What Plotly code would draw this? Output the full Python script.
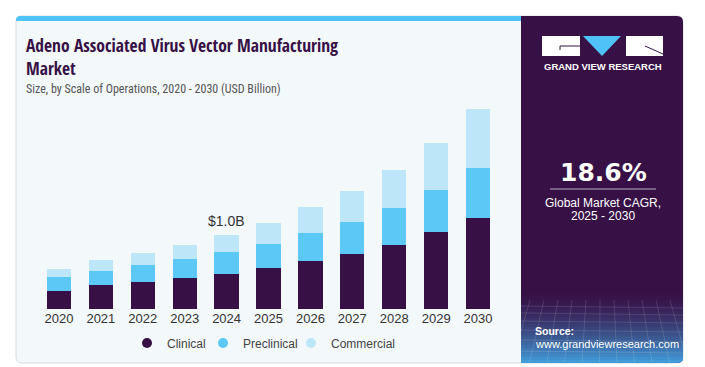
import plotly.graph_objects as go

years = ["2020", "2021", "2022", "2023", "2024", "2025", "2026", "2027", "2028", "2029", "2030"]
clinical = [0.25, 0.33, 0.37, 0.42, 0.48, 0.56, 0.65, 0.75, 0.87, 1.05, 1.24]
preclinical = [0.19, 0.19, 0.23, 0.26, 0.30, 0.33, 0.38, 0.43, 0.50, 0.57, 0.68]
commercial = [0.11, 0.145, 0.16, 0.185, 0.22, 0.28, 0.35, 0.43, 0.52, 0.64, 0.80]
series_names = ["Clinical", "Preclinical", "Commercial"]
colors = ["#371146", "#5BC8F5", "#BDE7F8"]
highlight_year = "2024"
highlight_label = "$1.0B"
cagr_text = "18.6%"

W, H = 705, 367
OFF = 8  # page body margin
SX0, SY0, PW, PH = 38, 100, 461, 209
L, T = SX0 - OFF, SY0 - OFF


def fx(sx):
    return (sx - SX0) / PW


def fy(sy):
    return (SY0 + PH - sy) / PH


def rrect(x0, y0, x1, y1, r, corners="tl,tr,br,bl"):
    c = corners.split(",")
    X0, X1 = fx(x0), fx(x1)
    Y0, Y1 = fy(y0), fy(y1)
    rx, ry = r / PW, r / PH
    p = []
    if "tl" in c:
        p.append(f"M{X0},{Y0 - ry} Q{X0},{Y0} {X0 + rx},{Y0}")
    else:
        p.append(f"M{X0},{Y0}")
    if "tr" in c:
        p.append(f"L{X1 - rx},{Y0} Q{X1},{Y0} {X1},{Y0 - ry}")
    else:
        p.append(f"L{X1},{Y0}")
    if "br" in c:
        p.append(f"L{X1},{Y1 + ry} Q{X1},{Y1} {X1 - rx},{Y1}")
    else:
        p.append(f"L{X1},{Y1}")
    if "bl" in c:
        p.append(f"L{X0 + rx},{Y1} Q{X0},{Y1} {X0},{Y1 + ry}")
    else:
        p.append(f"L{X0},{Y1}")
    p.append("Z")
    return " ".join(p)


fig = go.Figure()
vals = [clinical, preclinical, commercial]
for name, v, col in zip(series_names, vals, colors):
    fig.add_trace(go.Bar(x=years, y=v, name=name, marker=dict(color=col, line=dict(width=0)),
                         showlegend=False, hoverinfo="skip"))
legend_ids = ["legend", "legend2", "legend3"]
for name, col, lid in zip(series_names, colors, legend_ids):
    fig.add_trace(go.Scatter(x=[years[0]], y=[None], mode="markers", name=name, legend=lid,
                             marker=dict(color=col, size=10, symbol="circle")))

totals = [a + b + c for a, b, c in zip(clinical, preclinical, commercial)]
hi = years.index(highlight_year)

shapes = []
shapes.append(dict(type="path", xref="paper", yref="paper", path=rrect(16, 16, 683, 363, 6),
                   fillcolor="#F3F8FB", line=dict(color="#D5D9DE", width=1), layer="below"))
shapes.append(dict(type="path", xref="paper", yref="paper", path=rrect(521, 16, 683, 363, 6, "tr,br"),
                   fillcolor="#371146", line=dict(width=0), layer="below"))
n = 24
y_start, y_end = 290, 363
c0 = (55, 17, 70)
c1 = (66, 160, 222)
for i in range(n):
    t = (i + 0.5) / n
    t2 = t ** 1.6
    col = tuple(int(c0[k] + (c1[k] - c0[k]) * t2) for k in range(3))
    ya = y_start + (y_end - y_start) * i / n
    yb = y_start + (y_end - y_start) * (i + 1) / n + 0.5
    if i == n - 1:
        path = rrect(521, ya, 683, y_end, 6, "br")
    else:
        path = rrect(521, ya, 683, yb, 0, "")
    shapes.append(dict(type="path", xref="paper", yref="paper", path=path,
                       fillcolor=f"rgb{col}", line=dict(width=0), layer="below"))
for gy in [306, 313, 321, 330, 340, 351]:
    shapes.append(dict(type="line", xref="paper", yref="paper", x0=fx(521), x1=fx(683), y0=fy(gy), y1=fy(gy + 2),
                       line=dict(color="rgba(255,255,255,0.12)", width=1), layer="below"))
for gx in range(530, 683, 14):
    shapes.append(dict(type="line", xref="paper", yref="paper", x0=fx(gx), x1=fx(gx + (gx - 602) * 0.25),
                       y0=fy(300), y1=fy(362), line=dict(color="rgba(255,255,255,0.12)", width=1), layer="below"))
shapes.append(dict(type="path", xref="paper", yref="paper", path=rrect(16, 16, 521, 21, 4, "tl"),
                   fillcolor="#4FC3F7", line=dict(width=0), layer="below"))
# logo
shapes.append(dict(type="rect", xref="paper", yref="paper", x0=fx(542), x1=fx(580), y0=fy(36), y1=fy(56),
                   fillcolor="white", line=dict(width=0), layer="below"))
shapes.append(dict(type="line", xref="paper", yref="paper", x0=fx(560), x1=fx(580), y0=fy(46), y1=fy(46),
                   line=dict(color="#371146", width=1), layer="below"))
shapes.append(dict(type="line", xref="paper", yref="paper", x0=fx(560), x1=fx(560), y0=fy(46), y1=fy(50),
                   line=dict(color="#371146", width=1), layer="below"))
shapes.append(dict(type="path", xref="paper", yref="paper",
                   path=f"M{fx(583)},{fy(36)} L{fx(621)},{fy(36)} L{fx(602)},{fy(56)} Z",
                   fillcolor="#4FC3F7", line=dict(width=0), layer="below"))
shapes.append(dict(type="rect", xref="paper", yref="paper", x0=fx(626), x1=fx(663), y0=fy(36), y1=fy(56),
                   fillcolor="white", line=dict(width=0), layer="below"))
shapes.append(dict(type="line", xref="paper", yref="paper", x0=fx(645), x1=fx(663), y0=fy(46), y1=fy(54),
                   line=dict(color="#371146", width=1), layer="below"))
shapes.append(dict(type="line", xref="paper", yref="paper", x0=fx(550), x1=fx(656), y0=fy(189), y1=fy(189),
                   line=dict(color="#B9AEC2", width=1.2), layer="below"))

TF = "Open Sans Condensed, Roboto Condensed, sans-serif"
SF = "Roboto Condensed, sans-serif"
BF = "Liberation Sans, Arial, sans-serif"
ann = []
ann.append(dict(text="<b>Adeno Associated Virus Vector Manufacturing</b>", x=fx(24), y=fy(45),
                xref="paper", yref="paper", xanchor="left", yanchor="middle", showarrow=False,
                font=dict(family=TF, size=17.5, color="#371146")))
ann.append(dict(text="<b>Market</b>", x=fx(24), y=fy(68), xref="paper", yref="paper",
                xanchor="left", yanchor="middle", showarrow=False,
                font=dict(family=TF, size=17.5, color="#371146")))
ann.append(dict(text="Size, by Scale of Operations, 2020 - 2030 (USD Billion)", x=fx(24), y=fy(89),
                xref="paper", yref="paper", xanchor="left", yanchor="middle", showarrow=False,
                font=dict(family=SF, size=12, color="#555555")))
ann.append(dict(text=highlight_label, x=hi, y=totals[hi], xref="x", yref="y", yanchor="bottom",
                yshift=4, showarrow=False, font=dict(family=BF, size=14, color="#333333")))
ann.append(dict(text="<b>GRAND VIEW RESEARCH</b>", x=fx(602.5), y=fy(67), xref="paper", yref="paper",
                xanchor="center", yanchor="middle", showarrow=False,
                font=dict(family=BF, size=9.5, color="white")))
ann.append(dict(text=f"<b>{cagr_text}</b>", x=fx(603), y=fy(172), xref="paper", yref="paper",
                xanchor="center", yanchor="middle", showarrow=False,
                font=dict(family="DejaVu Sans, sans-serif", size=25, color="white")))
ann.append(dict(text="Global Market CAGR,", x=fx(603), y=fy(203), xref="paper", yref="paper",
                xanchor="center", yanchor="middle", showarrow=False,
                font=dict(family=BF, size=12, color="white")))
ann.append(dict(text="2025 - 2030", x=fx(603), y=fy(216), xref="paper", yref="paper",
                xanchor="center", yanchor="middle", showarrow=False,
                font=dict(family=BF, size=12, color="white")))
ann.append(dict(text="<b>Source:</b>", x=fx(533), y=fy(331), xref="paper", yref="paper",
                xanchor="left", yanchor="middle", showarrow=False,
                font=dict(family=BF, size=10.5, color="white")))
ann.append(dict(text="www.grandviewresearch.com", x=fx(533), y=fy(344), xref="paper", yref="paper",
                xanchor="left", yanchor="middle", showarrow=False,
                font=dict(family=BF, size=11, color="white")))

marker_px = [147, 223, 311]
legends = {}
for lid, mx in zip(legend_ids, marker_px):
    legends[lid] = dict(orientation="h", x=fx(mx - 20), xanchor="left", y=fy(343), yanchor="middle",
                        font=dict(family=BF, size=12, color="#444444"),
                        bgcolor="rgba(0,0,0,0)", itemwidth=30, borderwidth=0)

fig.update_layout(
    width=W, height=H,
    margin=dict(l=L, r=W - L - PW, t=T, b=H - T - PH, pad=0),
    paper_bgcolor="white", plot_bgcolor="rgba(0,0,0,0)",
    barmode="stack", bargap=0.42,
    shapes=shapes, annotations=ann,
    xaxis=dict(type="category", categoryorder="array", categoryarray=years, range=[-0.5, len(years) - 0.5],
               showgrid=False, zeroline=False, showline=False, ticks="", fixedrange=True,
               tickfont=dict(family=BF, size=13, color="#333333")),
    yaxis=dict(visible=False, range=[0, PH / 73.6], fixedrange=True),
    showlegend=True,
    **legends,
)

fig.write_html("out.html")
